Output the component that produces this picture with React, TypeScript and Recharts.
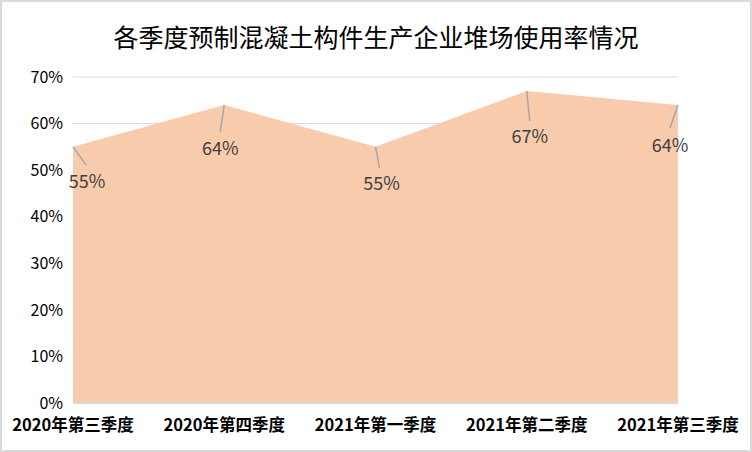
import React from "react";
import { AreaChart, Area, XAxis, YAxis, CartesianGrid, LabelList } from "recharts";

const quarters = ["2020年第三季度", "2020年第四季度", "2021年第一季度", "2021年第二季度", "2021年第三季度"];
const usageRate = [55, 64, 55, 67, 64];
const yTicks = [0, 10, 20, 30, 40, 50, 60, 70];

// where each data label sits relative to its point (text centre, leader end)
const labelOffsets = [
  { tx: 14, ty: 33, lx: 13, ly: 18 },
  { tx: -4, ty: 42, lx: -4, ly: 27 },
  { tx: 6, ty: 35, lx: 4, ly: 21 },
  { tx: 3, ty: 44, lx: 3, ly: 30 },
  { tx: -8, ty: 39, lx: -8, ly: 23 },
];

const data = quarters.map((q, i) => ({ q, v: usageRate[i] }));

const FONT = '"Noto Sans CJK SC", "Noto Sans", sans-serif';

const PointLabel = (props: any) => {
  const { x, y, value, index } = props;
  const o = labelOffsets[index] || { tx: 0, ty: 30, lx: 0, ly: 18 };
  return (
    <g>
      <line x1={x} y1={y} x2={x + o.lx} y2={y + o.ly} stroke="#A6A6A6" strokeWidth={1.5} />
      <text x={x + o.tx} y={y + o.ty} textAnchor="middle" dominantBaseline="central" fill="#404040" fontSize={18} fontFamily={FONT}>
        {value}%
      </text>
    </g>
  );
};

const App: React.FC = () => {
  return (
    <div
      style={{
        position: "absolute",
        left: 0,
        top: 0,
        width: 752,
        height: 452,
        boxSizing: "border-box",
        border: "2px solid #D9D9D9",
        background: "#fff",
        fontFamily: FONT,
      }}
    >
      <div style={{ position: "absolute", left: 0, right: 0, top: 18, textAlign: "center", fontSize: 25, color: "#000", lineHeight: "32px" }}>
        各季度预制混凝土构件生产企业堆场使用率情况
      </div>
      <AreaChart width={748} height={448} data={data} margin={{ top: 75, right: 72, left: 0, bottom: 0 }}>
        <CartesianGrid stroke="#D9D9D9" vertical={false} />
        <XAxis
          dataKey="q"
          height={47}
          axisLine={{ stroke: "#D9D9D9", strokeWidth: 2 }}
          tickLine={false}
          tickMargin={10}
          interval={0}
          tick={{ fill: "#000", fontSize: 16.5, fontWeight: 700, fontFamily: FONT }}
        />
        <YAxis
          width={71}
          domain={[0, 70]}
          ticks={yTicks}
          axisLine={false}
          tickLine={false}
          tickMargin={4}
          tickFormatter={(v: number) => `${v}%`}
          tick={{ fill: "#000", fontSize: 16, fontFamily: FONT }}
        />
        <Area type="linear" dataKey="v" stroke="none" fill="#F8CBAD" fillOpacity={1} isAnimationActive={false}>
          <LabelList dataKey="v" content={<PointLabel />} />
        </Area>
      </AreaChart>
    </div>
  );
};

export default App;
